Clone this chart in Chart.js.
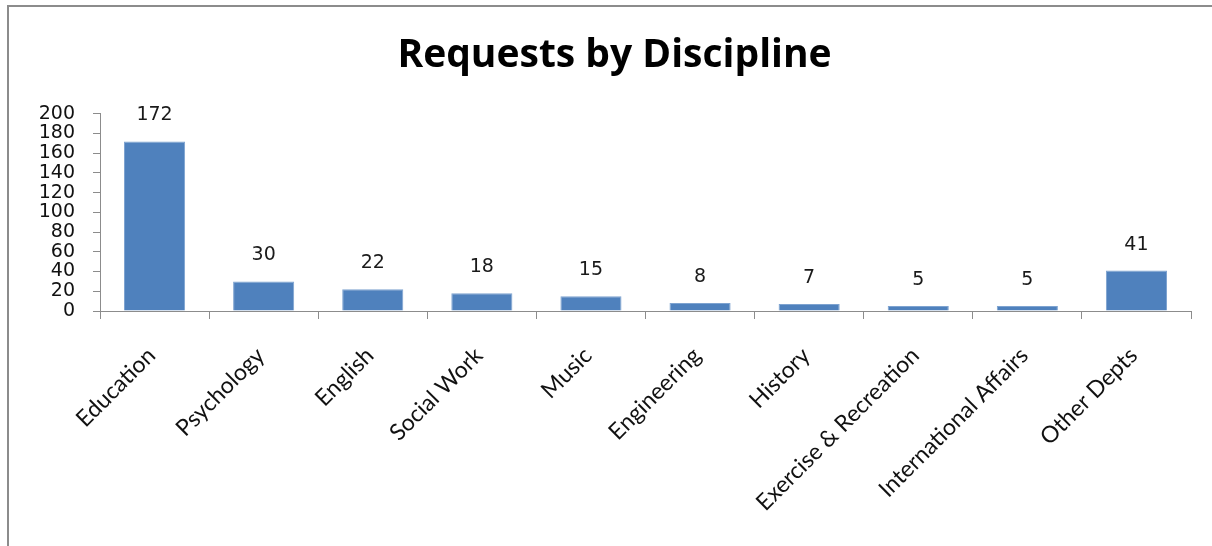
<!DOCTYPE html>
<html>
<head>
<meta charset="utf-8">
<script src="https://cdn.jsdelivr.net/npm/chart.js@4.4.1/dist/chart.umd.min.js"></script>
<style>
  html, body { margin: 0; padding: 0; background: #ffffff; }
  #wrap { width: 1212px; height: 546px; position: relative; }
</style>
</head>
<body>
<div id="wrap"><canvas id="c" width="1212" height="546"></canvas></div>
<script>
const categories = ['Education', 'Psychology', 'English', 'Social Work', 'Music', 'Engineering', 'History', 'Exercise & Recreation', 'International Affairs', 'Other Depts'];
const requests = [172, 30, 22, 18, 15, 8, 7, 5, 5, 41];
const yTickValues = [0, 20, 40, 60, 80, 100, 120, 140, 160, 180, 200];
const chartTitle = 'Requests by Discipline';

const frameBorder = {
  id: 'frameBorder',
  beforeDraw(chart) {
    const ctx = chart.ctx;
    ctx.save();
    ctx.fillStyle = '#ffffff';
    ctx.fillRect(0, 0, chart.width, chart.height);
    ctx.strokeStyle = '#8c8c8c';
    ctx.lineWidth = 2;
    ctx.beginPath();
    ctx.moveTo(8, chart.height);
    ctx.lineTo(8, 6);
    ctx.lineTo(chart.width, 6);
    ctx.stroke();
    ctx.restore();
  }
};

const valueLabels = {
  id: 'valueLabels',
  afterDatasetsDraw(chart) {
    const ctx = chart.ctx;
    const meta = chart.getDatasetMeta(0);
    ctx.save();
    ctx.font = '19px "DejaVu Sans"';
    ctx.fillStyle = '#1a1a1a';
    ctx.textAlign = 'center';
    ctx.textBaseline = 'middle';
    meta.data.forEach((el, i) => {
      ctx.fillText(String(requests[i]), el.x, el.y - 26);
    });
    ctx.restore();
  }
};

new Chart(document.getElementById('c'), {
  type: 'bar',
  data: {
    labels: categories,
    datasets: [{
      data: requests,
      backgroundColor: '#4F81BD',
      borderColor: '#7ea3d0',
      borderWidth: 1,
      barPercentage: 0.56,
      categoryPercentage: 1
    }]
  },
  options: {
    responsive: false,
    animation: false,
    devicePixelRatio: 1,
    layout: { padding: { left: 38, right: 21, top: 0, bottom: 0 } },
    plugins: {
      legend: { display: false },
      tooltip: { enabled: false },
      title: {
        display: true,
        text: chartTitle,
        color: '#000000',
        font: { family: 'Open Sans', size: 39, weight: 'bold' },
        padding: { top: 32, bottom: 35 }
      }
    },
    scales: {
      x: {
        type: 'category',
        position: 'bottom',
        offset: true,
        grid: { display: true, offset: true, drawOnChartArea: false, drawTicks: true, tickLength: 8, color: '#8c8c8c' },
        border: { display: true, color: '#8c8c8c', width: 1 },
        afterFit: s => { s.height = 235; },
        ticks: {
          autoSkip: false,
          minRotation: 45,
          maxRotation: 45,
          padding: 23,
          labelOffset: -3,
          color: '#111111',
          font: { family: 'Lato', size: 23 }
        }
      },
      y: {
        type: 'linear',
        position: 'left',
        min: 0,
        max: 200,
        afterBuildTicks: s => { s.ticks = yTickValues.map(v => ({ value: v })); },
        afterFit: s => { s.width = 62; },
        grid: { display: true, drawOnChartArea: false, drawTicks: true, tickLength: 7, color: '#8c8c8c' },
        border: { display: true, color: '#8c8c8c', width: 1 },
        ticks: {
          autoSkip: false,
          padding: 18,
          color: '#111111',
          font: { family: 'DejaVu Sans', size: 19, lineHeight: 1 }
        }
      }
    }
  },
  plugins: [frameBorder, valueLabels]
});
</script>
</body>
</html>
